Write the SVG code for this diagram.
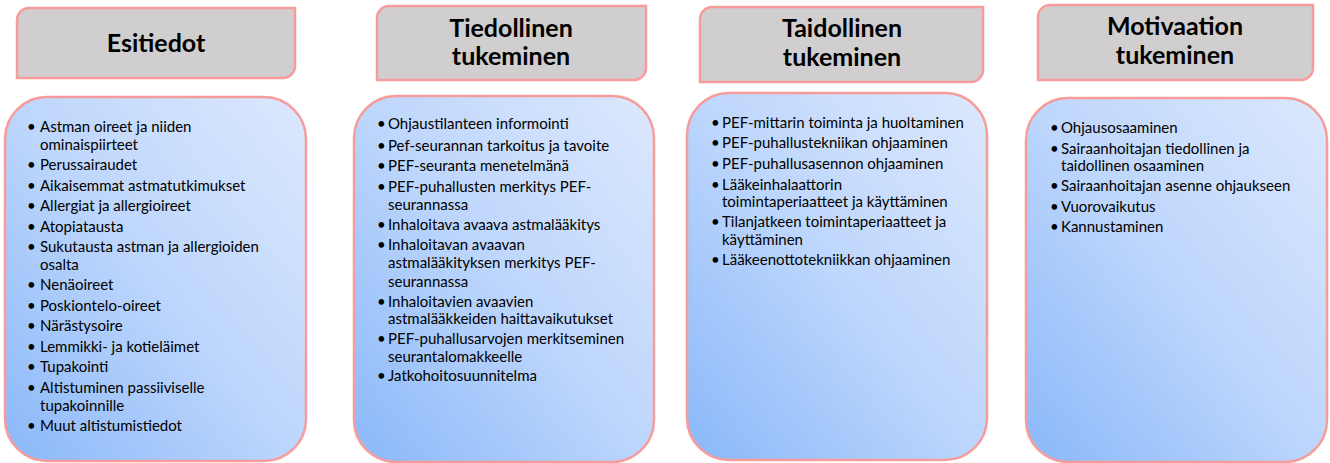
<svg xmlns="http://www.w3.org/2000/svg" width="1330" height="463" viewBox="0 0 1330 463">
<defs>
<linearGradient id="blueGrad" x1="0" y1="1" x2="1" y2="0">
<stop offset="0" stop-color="#8AB8F9"/>
<stop offset="0.5" stop-color="#BDD6FC"/>
<stop offset="1" stop-color="#DCE8FD"/>
</linearGradient>
</defs>
<style>
.hdr{fill:#D0CECE;stroke:#F79B9B;stroke-width:2.5}
.box{fill:url(#blueGrad);stroke:#F79B9B;stroke-width:2.5}
.ht{font-family:Lato,"Liberation Sans",sans-serif;font-weight:bold;font-size:25px;fill:#000;text-anchor:middle}
.bt{font-family:Lato,"Liberation Sans",sans-serif;font-size:15px;fill:#000}
</style>
<rect width="1330" height="463" fill="#FFFFFF"/>
<g id="connectors"></g>
<g id="header-esitiedot">
<path class="hdr" d="M29,8 H295 V66 A12,12 0 0 1 283,78 H17 V20 A12,12 0 0 1 29,8 Z"/>
<text class="ht" x="156" y="52">Esitiedot</text>
</g>
<g id="header-tiedollinen">
<path class="hdr" d="M389,6 H646 V68 A12,12 0 0 1 634,80 H377 V18 A12,12 0 0 1 389,6 Z"/>
<text class="ht" x="511" y="37">Tiedollinen</text>
<text class="ht" x="511" y="65">tukeminen</text>
</g>
<g id="header-taidollinen">
<path class="hdr" d="M712,7 H983 V70 A12,12 0 0 1 971,82 H700 V19 A12,12 0 0 1 712,7 Z"/>
<text class="ht" x="842" y="37">Taidollinen</text>
<text class="ht" x="842" y="66">tukeminen</text>
</g>
<g id="header-motivaation">
<path class="hdr" d="M1050,5 H1313 V68 A12,12 0 0 1 1301,80 H1038 V17 A12,12 0 0 1 1050,5 Z"/>
<text class="ht" x="1175" y="35">Motivaation</text>
<text class="ht" x="1175" y="64">tukeminen</text>
</g>
<g id="box-esitiedot">
<rect class="box" x="5" y="97" width="301" height="364" rx="42" ry="42"/>
<text class="bt">
<tspan x="27" y="132">•</tspan><tspan x="40" y="132">Astman oireet ja niiden</tspan>
<tspan x="40" y="150">ominaispiirteet</tspan>
<tspan x="27" y="170">•</tspan><tspan x="40" y="170">Perussairaudet</tspan>
<tspan x="27" y="191">•</tspan><tspan x="40" y="191">Aikaisemmat astmatutkimukset</tspan>
<tspan x="27" y="211">•</tspan><tspan x="40" y="211">Allergiat ja allergioireet</tspan>
<tspan x="27" y="232">•</tspan><tspan x="40" y="232">Atopiatausta</tspan>
<tspan x="27" y="252">•</tspan><tspan x="40" y="252">Sukutausta astman ja allergioiden</tspan>
<tspan x="40" y="270">osalta</tspan>
<tspan x="27" y="290">•</tspan><tspan x="40" y="290">Nenäoireet</tspan>
<tspan x="27" y="311">•</tspan><tspan x="40" y="311">Poskiontelo-oireet</tspan>
<tspan x="27" y="331">•</tspan><tspan x="40" y="331">Närästysoire</tspan>
<tspan x="27" y="352">•</tspan><tspan x="40" y="352">Lemmikki- ja kotieläimet</tspan>
<tspan x="27" y="372">•</tspan><tspan x="40" y="372">Tupakointi</tspan>
<tspan x="27" y="393">•</tspan><tspan x="40" y="393">Altistuminen passiiviselle</tspan>
<tspan x="40" y="411">tupakoinnille</tspan>
<tspan x="27" y="431">•</tspan><tspan x="40" y="431">Muut altistumistiedot</tspan>
</text>
</g>
<g id="box-tiedollinen">
<rect class="box" x="354" y="96" width="300" height="366" rx="42" ry="42"/>
<text class="bt">
<tspan x="377" y="129">•</tspan><tspan x="388" y="129">Ohjaustilanteen informointi</tspan>
<tspan x="377" y="151">•</tspan><tspan x="388" y="151">Pef-seurannan tarkoitus ja tavoite</tspan>
<tspan x="377" y="171">•</tspan><tspan x="388" y="171">PEF-seuranta menetelmänä</tspan>
<tspan x="377" y="192">•</tspan><tspan x="388" y="192">PEF-puhallusten merkitys PEF-</tspan>
<tspan x="388" y="210">seurannassa</tspan>
<tspan x="377" y="230">•</tspan><tspan x="388" y="230">Inhaloitava avaava astmalääkitys</tspan>
<tspan x="377" y="250">•</tspan><tspan x="388" y="250">Inhaloitavan avaavan</tspan>
<tspan x="388" y="268">astmalääkityksen merkitys PEF-</tspan>
<tspan x="388" y="287">seurannassa</tspan>
<tspan x="377" y="307">•</tspan><tspan x="388" y="307">Inhaloitavien avaavien</tspan>
<tspan x="388" y="324">astmalääkkeiden haittavaikutukset</tspan>
<tspan x="377" y="344">•</tspan><tspan x="388" y="344">PEF-puhallusarvojen merkitseminen</tspan>
<tspan x="388" y="362">seurantalomakkeelle</tspan>
<tspan x="377" y="381">•</tspan><tspan x="388" y="381">Jatkohoitosuunnitelma</tspan>
</text>
</g>
<g id="box-taidollinen">
<rect class="box" x="687" y="93" width="300" height="367" rx="42" ry="42"/>
<text class="bt">
<tspan x="711" y="128">•</tspan><tspan x="722" y="128">PEF-mittarin toiminta ja huoltaminen</tspan>
<tspan x="711" y="148">•</tspan><tspan x="722" y="148">PEF-puhallustekniikan ohjaaminen</tspan>
<tspan x="711" y="169">•</tspan><tspan x="722" y="169">PEF-puhallusasennon ohjaaminen</tspan>
<tspan x="711" y="190">•</tspan><tspan x="722" y="190">Lääkeinhalaattorin</tspan>
<tspan x="722" y="207">toimintaperiaatteet ja käyttäminen</tspan>
<tspan x="711" y="227">•</tspan><tspan x="722" y="227">Tilanjatkeen toimintaperiaatteet ja</tspan>
<tspan x="722" y="245">käyttäminen</tspan>
<tspan x="711" y="265">•</tspan><tspan x="722" y="265">Lääkeenottotekniikkan ohjaaminen</tspan>
</text>
</g>
<g id="box-motivaation">
<rect class="box" x="1026" y="98" width="301" height="364" rx="42" ry="42"/>
<text class="bt">
<tspan x="1050" y="133">•</tspan><tspan x="1061" y="133">Ohjausosaaminen</tspan>
<tspan x="1050" y="154">•</tspan><tspan x="1061" y="154">Sairaanhoitajan tiedollinen ja</tspan>
<tspan x="1061" y="171">taidollinen osaaminen</tspan>
<tspan x="1050" y="191">•</tspan><tspan x="1061" y="191">Sairaanhoitajan asenne ohjaukseen</tspan>
<tspan x="1050" y="212">•</tspan><tspan x="1061" y="212">Vuorovaikutus</tspan>
<tspan x="1050" y="232">•</tspan><tspan x="1061" y="232">Kannustaminen</tspan>
</text>
</g>
</svg>
